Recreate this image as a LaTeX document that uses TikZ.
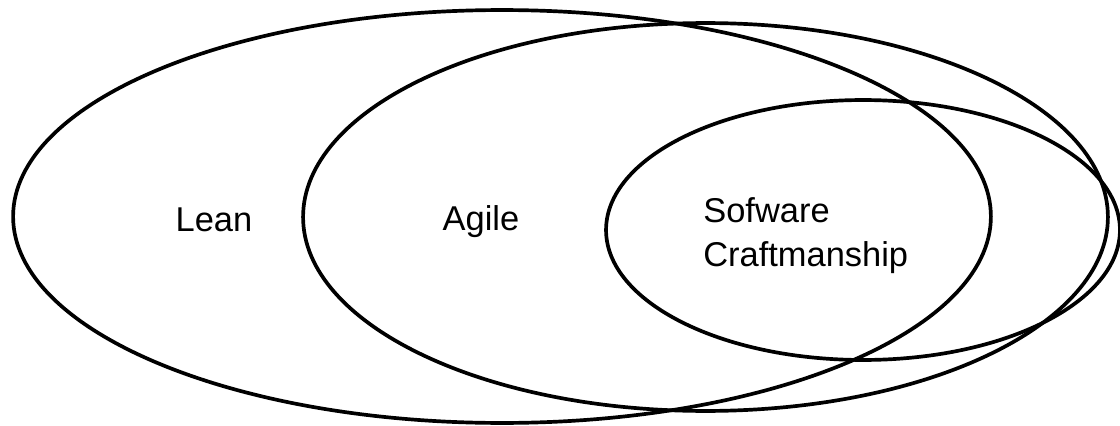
\documentclass[tikz,border=0pt]{standalone}
\usepackage{fontspec}
\setmainfont{Liberation Sans}
\usetikzlibrary{positioning,shapes.geometric}

\begin{document}
\begin{tikzpicture}[
  x=0.02cm, y=-0.02cm,
  set/.style={ellipse, draw, line width=2.1pt, inner sep=0pt},
  label/.style={font=\fontsize{19.6}{25}\selectfont, inner sep=0pt, align=left}
]
  \useasboundingbox (0,0) rectangle (1120,426);

  \node[set, minimum width=19.56cm, minimum height=8.26cm] (lean) at (502,216.5) {};
  \node[set, minimum width=16.1cm, minimum height=7.76cm] (agile) at (705.5,217) {};
  \node[set, minimum width=10.28cm, minimum height=5.2cm] (craft) at (863,230) {};

  \node[label, anchor=base] (leanlbl) at (214,231) {Lean};
  \node[label, anchor=base] (agilelbl) at (481,230) {Agile};
  \node[label, anchor=base west] (craftlbl) at (703,266) {Sofware\\Craftmanship};
\end{tikzpicture}
\end{document}
